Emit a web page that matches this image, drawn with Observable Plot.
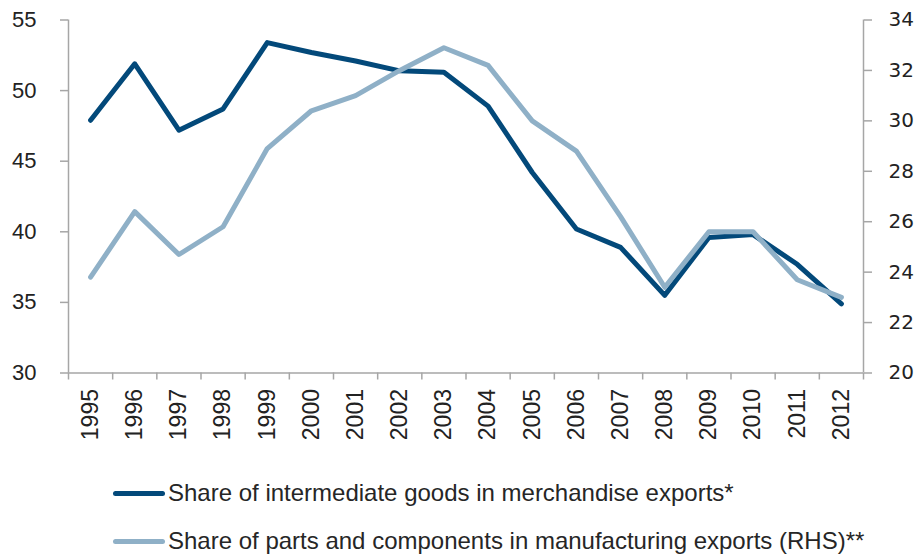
<!DOCTYPE html>
<html>
<head>
<meta charset="utf-8">
<script src="https://cdn.jsdelivr.net/npm/d3@7"></script>
<script src="https://cdn.jsdelivr.net/npm/@observablehq/plot@0.6"></script>
<style>
  html, body { margin: 0; padding: 0; background: #ffffff; }
  #wrap { position: relative; width: 918px; height: 555px; overflow: hidden; font-family: "Liberation Sans", Arial, sans-serif; }
  #chart { position: absolute; left: 0; top: 0; }
  .leg { position: absolute; left: 0; height: 30px; width: 918px; }
  .leg .sw { position: absolute; left: 113px; width: 52px; height: 5px; border-radius: 2.5px; top: 12.5px; }
  .leg .tx { position: absolute; left: 168px; top: 0; font-size: 24px; line-height: 30px; color: #262626; white-space: nowrap; }
</style>
</head>
<body>
<div id="wrap">
  <div id="chart"></div>
  <div class="leg" id="leg1" style="top:478px"><div class="sw"></div><div class="tx"></div></div>
  <div class="leg" id="leg2" style="top:526px"><div class="sw"></div><div class="tx"></div></div>
</div>
<script>
// ---- data ----
const years = [1995, 1996, 1997, 1998, 1999, 2000, 2001, 2002, 2003, 2004, 2005, 2006, 2007, 2008, 2009, 2010, 2011, 2012];
const intermediateGoods = [47.9, 51.9, 47.2, 48.7, 53.4, 52.7, 52.1, 51.4, 51.3, 48.9, 44.2, 40.2, 38.9, 35.5, 39.6, 39.8, 37.7, 34.9];
const partsComponents = [23.8, 26.4, 24.7, 25.8, 28.9, 30.4, 31.0, 32.0, 32.9, 32.2, 30.0, 28.8, 26.2, 23.4, 25.6, 25.6, 23.7, 23.0];
const leftTicks = [30, 35, 40, 45, 50, 55];
const rightTicks = [20, 22, 24, 26, 28, 30, 32, 34];
const leftDomain = [30, 55];
const rightDomain = [20, 34];
const seriesNames = [
  "Share of intermediate goods in merchandise exports*",
  "Share of parts and components in manufacturing exports (RHS)**"
];
const seriesColors = ["#03497A", "#8FB0C7"];

// ---- derived ----
const toLeft = d3.scaleLinear(rightDomain, leftDomain);
const xDomain = [years[0] - 0.5, years[years.length - 1] + 0.5];
const boundaries = d3.range(years.length + 1).map(i => xDomain[0] + i);
const dataA = years.map((year, i) => ({year, value: intermediateGoods[i]}));
const dataB = years.map((year, i) => ({year, value: toLeft(partsComponents[i])}));
const axisGrey = "#a6a6a6";
const textCol = "#222222";

const chart = Plot.plot({
  width: 918,
  height: 445,
  marginLeft: 68,
  marginRight: 55,
  marginTop: 19.5,
  marginBottom: 72.5,
  style: {background: "white", fontFamily: "Liberation Sans, Arial, sans-serif", color: textCol, overflow: "visible"},
  x: {type: "linear", domain: xDomain, label: null},
  y: {domain: leftDomain, label: null},
  marks: [
    Plot.axisY(leftTicks, {anchor: "left", tickSize: 8, tickPadding: 24, stroke: axisGrey, strokeWidth: 1.5, fill: textCol,
      fontSize: 22, fontFamily: "Liberation Sans, Arial, sans-serif", tickFormat: d3.format("d"), label: null}),
    Plot.axisY(rightTicks.map(toLeft), {anchor: "right", tickSize: 8, tickPadding: 17, stroke: axisGrey, strokeWidth: 1.5, fill: textCol,
      fontSize: 20, fontFamily: "DejaVu Sans, sans-serif", tickFormat: d => d3.format("d")(Math.round(toLeft.invert(d))), label: null}),
    Plot.axisX(boundaries, {anchor: "bottom", tickSize: 7, stroke: axisGrey, strokeWidth: 1.5, tickFormat: () => "", label: null}),
    Plot.axisX(years, {anchor: "bottom", tickSize: 0, tickPadding: 16, tickRotate: -90, fill: textCol,
      fontSize: 23, fontFamily: "Liberation Sans, Arial, sans-serif", tickFormat: d3.format("d"), label: null}),
    Plot.ruleY([leftDomain[0]], {stroke: axisGrey, strokeWidth: 1.5}),
    Plot.ruleX([xDomain[0]], {stroke: axisGrey, strokeWidth: 1.5}),
    Plot.ruleX([xDomain[1]], {stroke: axisGrey, strokeWidth: 1.5}),
    Plot.line(dataA, {x: "year", y: "value", stroke: seriesColors[0], strokeWidth: 5, strokeLinejoin: "round", strokeLinecap: "round"}),
    Plot.line(dataB, {x: "year", y: "value", stroke: seriesColors[1], strokeWidth: 5, strokeLinejoin: "round", strokeLinecap: "round"})
  ]
});
document.getElementById("chart").appendChild(chart);

["leg1", "leg2"].forEach((id, i) => {
  const el = document.getElementById(id);
  el.querySelector(".sw").style.background = seriesColors[i];
  el.querySelector(".tx").textContent = seriesNames[i];
});
</script>
</body>
</html>
